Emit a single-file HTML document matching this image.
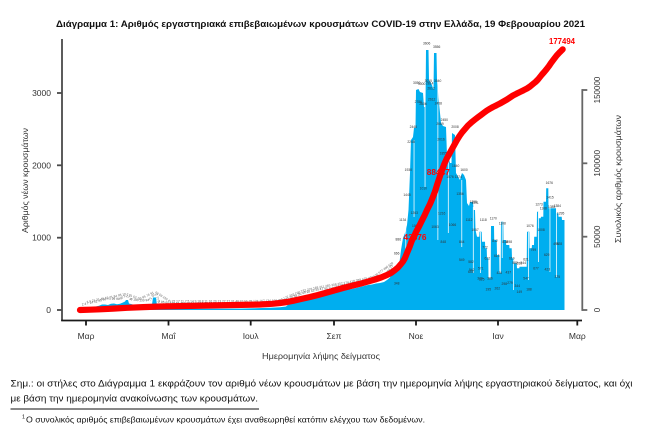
<!DOCTYPE html>
<html><head><meta charset="utf-8"><style>
html,body{margin:0;padding:0;background:#fff;}
svg{display:block;font-family:"Liberation Sans","Noto Sans CJK SC",sans-serif;}
</style></head><body>
<svg width="664" height="432" viewBox="0 0 664 432" xmlns="http://www.w3.org/2000/svg">
<rect width="664" height="432" fill="#fff"/>
<!-- title -->
<text x="56" y="27" font-size="9" font-weight="bold" fill="#111" textLength="529" lengthAdjust="spacingAndGlyphs">Διάγραμμα 1: Αριθμός εργαστηριακά επιβεβαιωμένων κρουσμάτων COVID-19 στην Ελλάδα, 19 Φεβρουαρίου 2021</text>

<!-- bars area -->
<path fill="#00aeef" d="M80,310 L80,309.5 L84,309.2 L87,308.8 L90,308 L93,307.5 L96,306.5 L99,305.8 L102,304.5 L105,304.5 L108,305 L111,303.8 L114,303.5 L117,304.2 L120,303.8 L123,302.5 L125,301.5 L126,300 L128,300 L129,303.5 L133,304.5 L138,305 L143,305.5 L148,305 L152,304.5 L153,297.5 L156,297.5 L157,305.5 L162,306.8 L170,307.8 L180,308.5 L200,308.8 L220,308.8 L240,308.6 L255,308.3 L270,307.8 L280,307.3 L286,306.5 L289,304 L292,302 L296,300.5 L300,299.5 L304,298 L308,297.5 L312,296.5 L316,295.5 L320,294.5 L324,293.5 L328,292.5 L332,293.8 L336,293 L340,291.5 L344,290.5 L348,289.5 L352,289 L356,288 L360,287 L364,286 L368,285 L372,284.5 L376,283.5 L380,283 L384,282 L387,280 L390,277.5 L392,273 L394,270 L396,268.5 L398,266 L399.5,262 L401,250 L403,238 L405,233 L407,225 L408.5,210 L410,173 L411,140 L413,137 L414,128 L415.5,128 L416,90 L418.5,89 L420,92 L423,93 L424,107 L425.5,107 L426,50 L428.5,50 L429,80 L432,85 L433.5,90 L434,53 L436.5,53 L437,80 L439,103 L441,123 L443,126 L446,127 L447,156 L448.5,157 L450,163 L451.5,163 L452,133 L455,135 L456,173 L460,180 L461,176 L462,173 L464,175 L466,180 L467,203 L469,206 L470,202 L473,202 L473.5,210 L475,210 L475.5,230 L477,236.7 L479.3,236.7 L479.5,231.7 L481.7,231.7 L482,241.7 L485,241.7 L485.2,248.3 L486.7,248.3 L487,258.3 L488.3,258.3 L488.5,278.3 L490.7,278.3 L491,226 L494,226 L494.2,240 L496.7,240 L497,255 L499.3,255 L499.5,273 L500.7,273 L501,221.7 L503.3,221.7 L503.5,240 L506,240 L506.2,245 L509.3,245 L509.5,248.3 L511.7,248.3 L512,258.3 L514,258.3 L514.2,263.3 L516.7,263.3 L517,268.3 L519.3,268.3 L519.5,266.7 L526.7,266.7 L527,231.7 L529.3,231.7 L529.5,248.3 L531.7,248.3 L532,245 L534,245 L534.2,236.7 L536.7,236.7 L537,211.7 L538.3,211.7 L538.5,218.3 L540.7,218.3 L541,216.7 L543.3,216.7 L543.5,201.7 L546,201.7 L546.2,188.3 L548.3,188.3 L548.5,208.3 L556,208.3 L556.2,213.3 L558.3,213.3 L558.5,216.7 L561.7,216.7 L562,220 L564.5,220 L564.5,310 Z"/>
<!-- gaps between bars (low days) -->
<g fill="#fff" opacity="0.85">
<rect x="405.3" y="222" width="0.9" height="31"/>
<rect x="413.6" y="140" width="0.9" height="77"/>
<rect x="424.6" y="107" width="0.9" height="80"/>
<rect x="437.4" y="80" width="0.9" height="160"/>
<rect x="447.9" y="157" width="0.9" height="76"/>
<rect x="461.3" y="180" width="0.9" height="67"/>
<rect x="472.9" y="207" width="0.9" height="66"/>
<rect x="480.0" y="232" width="0.9" height="41"/>
<rect x="501.8" y="222" width="0.9" height="36"/>
<rect x="513.0" y="258" width="0.9" height="32"/>
<rect x="528.0" y="232" width="0.9" height="48"/>
<rect x="538.0" y="212" width="0.9" height="50"/>
<rect x="549.5" y="208" width="0.9" height="64"/>
<rect x="556.0" y="208" width="0.9" height="69"/>
</g>

<!-- bar value labels (low region) -->
<path id="lp" d="M82,305.5 L88,304.5 L96,302.5 L104,300.5 L112,299.5 L120,300 L126,296.5 L130,300 L140,301.5 L150,301 L155,294.5 L158,302.5 L170,304 L200,304.5 L240,304 L280,303 L290,299 L303,294 L318,290.5 L333,289 L345,286 L360,283 L374,280 L385,277.5 L393,266" fill="none"/>
<path id="lp2" d="M84,304 L96,301 L112,298 L126,295 L140,300 L155,293 L170,302.5 L240,302.5 L280,301.5 L290,297 L303,292 L318,288.5 L345,284 L374,278 L393,264" fill="none"/>
<text font-size="3.2" fill="#555"><textPath href="#lp">2 4 7 14 32 45 66 73 99 89 90 117 99 190 130 94 71 102 77 62 95 60 129 64 156 97 99 42 36 25 18 29 15 10 16 21 12 9 13 6 17 12 4 10 15 8 21 12 19 23 26 35 36 49 28 43 39 47 90 110 152 121 153 203 262 204 183 269 168 284 233 214 298 290 342 236 306 181 293 412 364 451 320 453 460 504 519 410 512 458 596 865</textPath></text>
<text font-size="3.2" fill="#666"><textPath href="#lp2" startOffset="3">3 9 21 31 46 52 71 84 95 102 81 62 150 95 74 91 68 59 156 41 22 17 11 7 5 14 9 18 8 11 16 20 13 22 27 31 40 37 55 78 124 167 134 196 229 177 203 190 232 276 169 211 265 308 352 274 418 389 475 402 538 577 490 629</textPath></text>

<!-- bar value labels (high region) -->
<g font-size="3.3" fill="#333" text-anchor="middle">
<text x="426.7" y="44.5">3606</text><text x="436.7" y="47.9">3556</text>
<text x="416.7" y="83.9">3050</text><text x="421.7" y="85.2">3000</text>
<text x="428.3" y="81.9">3015</text><text x="437.7" y="81.9">3040</text>
<text x="429.7" y="84.5">2814</text><text x="431" y="89.5">2612</text>
<text x="418.3" y="102.9">2786</text><text x="423" y="105.2">2606</text>
<text x="431.7" y="100.5">2612</text><text x="438.3" y="104.5">2458</text>
<text x="444.3" y="121.2">2450</text><text x="413.3" y="127.9">2448</text>
<text x="411" y="142.9">2248</text><text x="440" y="125.2">2069</text>
<text x="441" y="140.5">2016</text><text x="455" y="127.9">2008</text>
<text x="443.3" y="154.5">1855</text><text x="408.3" y="171.2">1930</text>
<text x="455.7" y="167.2">1840</text><text x="464" y="171.2">1600</text>
<text x="450" y="177.9">1576</text><text x="407" y="196.2">1445</text>
<text x="458.3" y="177.9">1374</text><text x="414.3" y="213.9">1263</text>
<text x="402.7" y="221.2">1134</text><text x="423.3" y="189.5">1010</text>
<text x="435" y="227.9">1063</text><text x="441.7" y="214.5">1216</text>
<text x="415.7" y="227.2">1060</text><text x="443.3" y="242.9">848</text>
<text x="461.7" y="242.9">844</text><text x="460" y="195.2">1356</text>
<text x="475" y="203.9">1391</text><text x="469" y="221.2">1112</text>
<text x="452.5" y="226.2">1066</text><text x="398.3" y="240.5">886</text>
<text x="396.7" y="254.5">666</text><text x="461.7" y="261.2">549</text>
<text x="471" y="262.9">582</text><text x="471.7" y="271.2">542</text>
<text x="480" y="279.5">320</text><text x="396.7" y="284.5">348</text>
<text x="473.3" y="202.9">1395</text><text x="475" y="231.2">1067</text>
<text x="483.3" y="221.2">1118</text><text x="493.3" y="219.5">1170</text>
<text x="502.3" y="224.5">1108</text><text x="495" y="241.9">812</text>
<text x="485" y="248.5">772</text><text x="487.3" y="259.5">622</text>
<text x="496.7" y="257.2">613</text><text x="470.7" y="272.9">645</text>
<text x="480.7" y="269.5">571</text><text x="481.7" y="280.5">325</text>
<text x="490" y="279.5">366</text><text x="488.3" y="290.5">195</text>
<text x="497.3" y="289.5">262</text><text x="499.3" y="273.9">426</text>
<text x="504.3" y="285.2">298</text><text x="510" y="283.9">279</text>
<text x="508.3" y="273.5">437</text><text x="505" y="242.9">818</text>
<text x="509.3" y="242.9">898</text><text x="511.7" y="259.5">619</text>
<text x="515" y="263.9">582</text><text x="519.3" y="264.5">556</text>
<text x="523.3" y="263.9">544</text><text x="517.3" y="287.2">344</text>
<text x="519.3" y="292.9">149</text><text x="526" y="260.5">621</text>
<text x="526" y="279.5">547</text><text x="529" y="290.5">188</text>
<text x="530" y="227.2">1076</text><text x="533.3" y="251.2">799</text>
<text x="536" y="269.5">677</text><text x="539" y="205.5">1273</text>
<text x="543.3" y="209.5">1168</text><text x="541" y="231.2">1008</text>
<text x="549.3" y="183.9">1676</text><text x="550" y="198.5">1415</text>
<text x="551.7" y="207.9">1385</text><text x="557.3" y="207.2">1384</text>
<text x="560.7" y="214.5">1295</text><text x="546.7" y="256.2">629</text>
<text x="547.3" y="270.5">423</text><text x="556" y="245.2">499</text>
<text x="559.3" y="245.2">528</text><text x="557.3" y="277.9">375</text>
</g>

<!-- cumulative red line -->
<path fill="none" stroke="#ff0000" stroke-width="6.2" stroke-linecap="round" stroke-linejoin="round" d="M80,310 L90,309.7 L100,309.3 L113,308.6 L127,307.8 L143,307.1 L160,306.5 L185,306 L210,305.5 L235,305 L260,304.5 L272,303.8 L280,303 L287,302 L293,300.8 L301,299 L310,297 L318,295 L327,292.5 L335,290.3 L343,288 L351,286 L360,283.8 L367,281.8 L375,279.5 L381,277.5 L387,275 L391,273 L395,270 L398,267.5 L401,264 L403,261.5 L405,258 L407,253 L409.5,247 L411.7,241 L414,236.5 L416,232 L419,226.5 L421.7,221 L424.5,215.5 L427,210 L430,204 L432.5,198 L435,191.5 L437,185 L439.5,177.5 L442,170 L444.5,163.5 L447,158 L449.5,153.5 L452,149 L454.5,144.5 L457,140 L459.5,136 L462,132.5 L465,129 L468,125.5 L471.5,122.3 L475,119.5 L478,117.2 L481,115 L484,112.7 L487,110.5 L490,108.7 L493,107 L496.5,105.3 L500,103.5 L503.5,101.5 L507,99.5 L510,97.5 L513,95.5 L516.5,93.7 L520,92 L523.5,90.3 L527,88.5 L530,86.5 L533,84 L535.5,82 L538,79.5 L540,77 L542,74.5 L544.5,71.7 L546.7,69 L549,66 L551,63 L554,59 L556.7,55.5 L559.7,52.3 L562.7,49.3"/>
<!-- red labels -->
<g fill="#ff0000" font-weight="bold" text-anchor="middle">
<text x="562" y="44" font-size="8" textLength="26" lengthAdjust="spacingAndGlyphs">177494</text>
<text x="415" y="240" font-size="8.5" textLength="23" lengthAdjust="spacingAndGlyphs">43876</text>
<text x="438.3" y="175" font-size="8.5" textLength="23" lengthAdjust="spacingAndGlyphs">88447</text>
</g>

<!-- left axis -->
<g stroke="#4a4a4a" stroke-width="1.8" fill="none">
<line x1="62" y1="39" x2="62" y2="321"/>
<line x1="57" y1="310" x2="62" y2="310"/>
<line x1="57" y1="237.7" x2="62" y2="237.7"/>
<line x1="57" y1="165.3" x2="62" y2="165.3"/>
<line x1="57" y1="93" x2="62" y2="93"/>
</g>
<g font-size="8.5" fill="#333" text-anchor="end">
<text x="51" y="313">0</text>
<text x="51" y="240.7">1000</text>
<text x="51" y="168.3">2000</text>
<text x="51" y="96">3000</text>
</g>
<text transform="translate(25,180.5) rotate(-90)" text-anchor="middle" dy="0.35em" font-size="8.5" fill="#333" textLength="105" lengthAdjust="spacingAndGlyphs">Αριθμός νέων κρουσμάτων</text>

<!-- bottom axis -->
<g stroke="#1a1a1a" stroke-width="1.8" fill="none">
<line x1="61.2" y1="320.5" x2="582" y2="320.5"/>
<line x1="86" y1="320.5" x2="86" y2="325.5"/>
<line x1="168.5" y1="320.5" x2="168.5" y2="325.5"/>
<line x1="250.7" y1="320.5" x2="250.7" y2="325.5"/>
<line x1="334" y1="320.5" x2="334" y2="325.5"/>
<line x1="416" y1="320.5" x2="416" y2="325.5"/>
<line x1="498" y1="320.5" x2="498" y2="325.5"/>
<line x1="577.3" y1="320.5" x2="577.3" y2="325.5"/>
</g>
<g font-size="8.5" fill="#333" text-anchor="middle">
<text x="86" y="339">Μαρ</text>
<text x="168.5" y="339">Μαΐ</text>
<text x="250.7" y="339">Ιουλ</text>
<text x="334" y="339">Σεπ</text>
<text x="416" y="339">Νοε</text>
<text x="498" y="339">Ιαν</text>
<text x="577.3" y="339">Μαρ</text>
</g>
<text x="321" y="359" font-size="8.5" fill="#333" text-anchor="middle" textLength="118" lengthAdjust="spacingAndGlyphs">Ημερομηνία λήψης δείγματος</text>

<!-- right axis -->
<g stroke="#666" stroke-width="1.8" fill="none">
<line x1="582.3" y1="89.1" x2="582.3" y2="310.9"/>
<line x1="582.3" y1="90" x2="587.3" y2="90"/>
<line x1="582.3" y1="163.3" x2="587.3" y2="163.3"/>
<line x1="582.3" y1="236.7" x2="587.3" y2="236.7"/>
<line x1="582.3" y1="310" x2="587.3" y2="310"/>
</g>
<g font-size="8" fill="#333" text-anchor="middle">
<text transform="translate(597,90) rotate(-90)" dy="0.35em">150000</text>
<text transform="translate(597,163.3) rotate(-90)" dy="0.35em">100000</text>
<text transform="translate(597,236.7) rotate(-90)" dy="0.35em">50000</text>
<text transform="translate(597,310) rotate(-90)" dy="0.35em">0</text>
</g>
<text transform="translate(618,179) rotate(-90)" text-anchor="middle" dy="0.35em" font-size="8.5" fill="#333" textLength="128" lengthAdjust="spacingAndGlyphs">Συνολικός αριθμός κρουσμάτων</text>

<!-- notes -->
<text x="10.5" y="386.5" font-size="9.5" fill="#111" textLength="622" lengthAdjust="spacingAndGlyphs">Σημ.: οι στήλες στο Διάγραμμα 1 εκφράζουν τον αριθμό νέων κρουσμάτων με βάση την ημερομηνία λήψης εργαστηριακού δείγματος, και όχι</text>
<text x="10.5" y="401.5" font-size="9.5" fill="#111" textLength="247.5" lengthAdjust="spacingAndGlyphs">με βάση την ημερομηνία ανακοίνωσης των κρουσμάτων.</text>
<line x1="10.5" y1="409" x2="259" y2="409" stroke="#111" stroke-width="1"/>
<text x="22" y="418.5" font-size="5.5" fill="#111">1</text>
<text x="26" y="422.5" font-size="8" fill="#111" textLength="399" lengthAdjust="spacingAndGlyphs">Ο συνολικός αριθμός επιβεβαιωμένων κρουσμάτων έχει αναθεωρηθεί κατόπιν ελέγχου των δεδομένων.</text>
</svg>
</body></html>
